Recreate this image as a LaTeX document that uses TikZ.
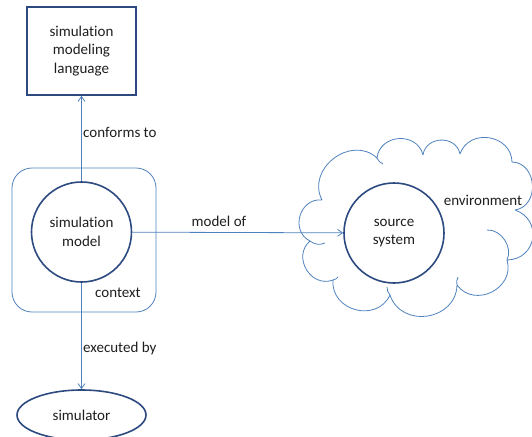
\documentclass[tikz,border=0pt]{standalone}
\usepackage{fontspec}
\setmainfont{Carlito}[Ligatures=NoCommon]
\usetikzlibrary{arrows.meta,shapes.geometric}
\definecolor{darkblue}{RGB}{44,74,128}
\definecolor{lightblue}{RGB}{79,129,189}
\definecolor{txt}{RGB}{30,30,30}
\begin{document}
\begin{tikzpicture}[x=1pt,y=-1pt,
  every node/.style={font=\fontsize{15}{18.5}\selectfont, text=txt},
  thick outline/.style={draw=darkblue, line width=1.6pt},
  thin outline/.style={draw=lightblue, line width=0.8pt},
  circ/.style={thick outline, circle, minimum size=100pt, inner sep=0pt, align=center},
  conn/.style={draw=lightblue, line width=0.8pt, -{Straight Barb[length=5pt,width=7pt,line width=0.8pt]}},
  lbl/.style={inner sep=0pt},
  puff/.style={bend left=80, looseness=1.35}
]
\useasboundingbox (0,0) rectangle (532,436);

% context rounded rectangle
\node[thin outline, rectangle, rounded corners=20pt, minimum width=144pt, minimum height=144pt] (ctx) at (84,240) {};

% nodes
\node[thick outline, rectangle, minimum width=109pt, minimum height=88pt, align=center] (sml) at (81.5,51) {simulation\\modeling\\language};
\node[circ] (sm) at (81.5,232) {simulation\\model};
\node[circ] (ss) at (394,233) {source\\system};
\node[thick outline, ellipse, minimum width=129pt, minimum height=50pt] (sim) at (81.5,415) {simulator};

% cloud (environment)
\coordinate (c1) at (310,241);
\coordinate (c2) at (322,200);
\coordinate (c3) at (377,158);
\coordinate (c4) at (423,155);
\coordinate (c5) at (460,154);
\coordinate (c6) at (512,162);
\coordinate (c6b) at (515,210);
\coordinate (c7) at (507,260);
\coordinate (c8) at (457,285);
\coordinate (c9) at (390,295);
\coordinate (c10) at (333,280);
\draw[thin outline]
  (c1) to[puff] (c2)
  (c2) to[bend left=80, looseness=1.3] (c3)
  (c3) to[puff] (c4)
  (c4) to[puff] (c5)
  (c5) to[puff] (c6)
  (c6) to[bend left=85, looseness=1.35] (c6b)
  (c7) to[bend right=80, looseness=1.5] (c6b)
  (c7) to[puff] (c8)
  (c8) to[puff] (c9)
  (c9) to[puff] (c10)
  (c10) to[puff] (c1);
% inner arcs of the cloud
\draw[thin outline] (c1) to[bend right=30] (325,243);
\draw[thin outline] (487,230) to[bend left=60] (c7);
\draw[thin outline] (c8) to[bend left=20] (458,277);
\draw[thin outline] (c9) to[bend left=20] (387,287);
\draw[thin outline] (c10) to[bend right=20] (338,277);
\draw[thin outline] (c3) to[bend right=20] (383,164);

% connectors
\draw[conn] (sm) -- (sml);
\draw[conn] (sm) -- (ss);
\draw[conn] (sm) -- (sim);

% labels
\node[lbl, anchor=west] (l1) at (83,132) {conforms to};
\node[lbl] (l2) at (219,221) {model of};
\node[lbl] (l3) at (118,293) {context};
\node[lbl] (l4) at (483,200) {environment};
\node[lbl, anchor=west] (l5) at (83,348) {executed by};
\end{tikzpicture}
\end{document}
